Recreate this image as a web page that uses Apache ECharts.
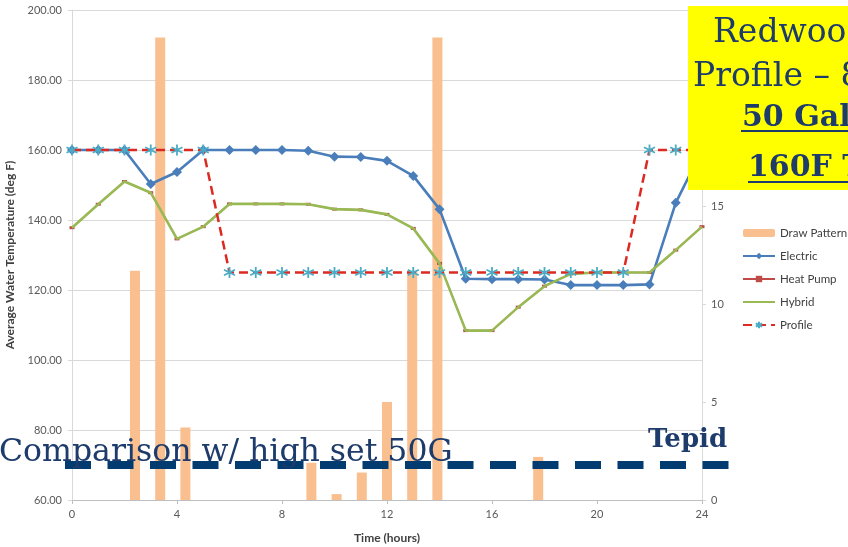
<!DOCTYPE html>
<html>
<head>
<meta charset="utf-8">
<script src="https://cdn.jsdelivr.net/npm/echarts@6/dist/echarts.min.js"></script>
<style>
  html, body { margin: 0; padding: 0; background: #ffffff; }
  #chart { width: 848px; height: 547px; }
</style>
</head>
<body>
<div id="chart"></div>
<script>
// Hour of day, 0..24
const hours = [0,1,2,3,4,5,6,7,8,9,10,11,12,13,14,15,16,17,18,19,20,21,22,23,24];

// Hourly draw volume (secondary axis)
const drawPattern = [0,0,11.7,23.6,3.7,0,0,0,0,1.9,0.3,1.4,5.0,11.7,23.6,0,0,0,2.2,0,0,0,0,0,0];

// Average water temperature, deg F
const electric = [160,160,160,150.3,153.7,160,160,160,160,159.8,158.1,158.0,156.9,152.6,143.1,123.2,123.1,123.1,123.0,121.4,121.4,121.4,121.6,144.9,160];
const heatPump = [137.8,144.5,151.0,147.8,134.6,138.1,144.6,144.6,144.6,144.5,143.1,142.9,141.6,137.6,127.6,108.4,108.4,115.1,121.1,124.6,125.0,125.0,125.0,131.4,138.1];
const hybrid   = [137.8,144.5,151.0,147.8,134.6,138.1,144.6,144.6,144.6,144.5,143.1,142.9,141.6,137.6,127.6,108.4,108.4,115.1,121.1,124.6,125.0,125.0,125.0,131.4,138.1];
const profile  = [160,160,160,160,160,160,125,125,125,125,125,125,125,125,125,125,125,125,125,125,125,125,160,160,160];

// Axis ticks
const tempTicks = { min: 60, max: 200, step: 20 };
const drawTicks = { min: 0, max: 25, step: 5 };
const hourTicks = { min: 0, max: 24, step: 4 };

const labelFont = 'Lato, "Open Sans", sans-serif';
const navy = '#1d3b6b';
const serif = '"DejaVu Serif", "Liberation Serif", serif';

const pairs = arr => hours.map((h, i) => [h, arr[i]]);
const asterisk = 'path://M5,0L5,10M0.7,2.5L9.3,7.5M9.3,2.5L0.7,7.5';

const chart = echarts.init(document.getElementById('chart'), null, { renderer: 'canvas' });

chart.setOption({
  animation: false,
  backgroundColor: '#ffffff',
  grid: { left: 72, right: 146, top: 10, bottom: 47, containLabel: false, outerBoundsMode: 'none' },
  legend: {
    orient: 'vertical',
    left: 742,
    top: 226,
    padding: 0,
    itemWidth: 32,
    itemHeight: 8,
    itemGap: 9,
    textStyle: { fontFamily: labelFont, fontSize: 11.5, color: '#404040', lineHeight: 14 },
    data: [
      'Draw Pattern',
      'Electric',
      'Heat Pump',
      { name: 'Hybrid', itemStyle: { opacity: 0 } },
      'Profile'
    ]
  },
  xAxis: [
    {
      type: 'value',
      min: hourTicks.min, max: hourTicks.max, interval: hourTicks.step,
      name: 'Time (hours)',
      nameLocation: 'middle',
      nameGap: 32,
      nameTextStyle: { fontFamily: labelFont, fontSize: 12, fontWeight: 'bold', color: '#404040' },
      axisLine: { show: true, lineStyle: { color: '#bfbfbf', width: 1 } },
      axisTick: { show: true, length: 4, lineStyle: { color: '#bfbfbf' } },
      axisLabel: { fontFamily: labelFont, fontSize: 11, color: '#595959', margin: 9 },
      splitLine: { show: false }
    },
    {
      type: 'category',
      data: hours.map(String),
      boundaryGap: true,
      show: false
    }
  ],
  yAxis: [
    {
      type: 'value',
      min: tempTicks.min, max: tempTicks.max, interval: tempTicks.step,
      name: 'Average Water Temperature (deg F)',
      nameLocation: 'middle',
      nameGap: 52,
      nameTextStyle: { fontFamily: labelFont, fontSize: 12, fontWeight: 'bold', color: '#404040' },
      axisLine: { show: true, lineStyle: { color: '#d9d9d9' } },
      axisTick: { show: true, length: 4, lineStyle: { color: '#d9d9d9' } },
      axisLabel: { fontFamily: labelFont, fontSize: 11, color: '#595959', margin: 10, formatter: v => v.toFixed(2) },
      splitLine: { show: true, lineStyle: { color: '#d9d9d9', width: 1 } }
    },
    {
      type: 'value',
      position: 'right',
      min: drawTicks.min, max: drawTicks.max, interval: drawTicks.step,
      axisLine: { show: true, lineStyle: { color: '#d9d9d9' } },
      axisTick: { show: true, length: 4, lineStyle: { color: '#d9d9d9' } },
      axisLabel: { fontFamily: labelFont, fontSize: 11, color: '#595959', margin: 9 },
      splitLine: { show: false }
    }
  ],
  series: [
    {
      name: 'Draw Pattern',
      type: 'bar',
      xAxisIndex: 1,
      yAxisIndex: 1,
      data: drawPattern,
      barWidth: 10,
      itemStyle: { color: '#f9bf8f' },
      z: 1
    },
    {
      name: 'Electric',
      type: 'line',
      data: pairs(electric),
      symbol: 'diamond',
      symbolSize: 10,
      showAllSymbol: true,
      lineStyle: { color: '#4a7ebb', width: 2.6 },
      itemStyle: { color: '#4a7ebb' },
      z: 3
    },
    {
      name: 'Heat Pump',
      type: 'line',
      data: pairs(heatPump),
      symbol: 'rect',
      symbolSize: [5, 3],
      lineStyle: { color: '#be4b48', width: 1.5 },
      itemStyle: { color: '#be4b48' },
      z: 4
    },
    {
      name: 'Hybrid',
      type: 'line',
      data: pairs(hybrid),
      symbol: 'none',
      lineStyle: { color: '#98b954', width: 2.6 },
      itemStyle: { color: '#98b954' },
      z: 5
    },
    {
      name: 'Profile',
      type: 'line',
      data: pairs(profile),
      symbol: asterisk,
      symbolSize: 11,
      showAllSymbol: true,
      lineStyle: { color: '#dc2a22', width: 2.5, type: [9, 5] },
      itemStyle: { color: 'rgba(0,0,0,0)', borderColor: '#4bacc6', borderWidth: 1.8 },
      z: 6
    }
  ],
  graphic: [
    {
      type: 'rect', z: 100,
      shape: { x: 688, y: 6, width: 220, height: 184 },
      style: { fill: '#ffff00' }
    },
    {
      type: 'text', z: 101,
      style: { x: 713, y: 33, text: 'Redwood City', font: '33px ' + serif, fill: navy, verticalAlign: 'middle' }
    },
    {
      type: 'text', z: 101,
      style: { x: 693, y: 77, text: 'Profile \u2013 8 Hours', font: '33px ' + serif, fill: navy, verticalAlign: 'middle' }
    },
    {
      type: 'text', z: 101,
      style: { x: 742, y: 118, text: '50 Gallon', font: 'bold 30px ' + serif, fill: navy, verticalAlign: 'middle' }
    },
    {
      type: 'text', z: 101,
      style: { x: 748, y: 168, text: '160F Tank', font: 'bold 30px ' + serif, fill: navy, verticalAlign: 'middle' }
    },
    {
      type: 'line', z: 101,
      shape: { x1: 741, y1: 131, x2: 860, y2: 131 },
      style: { stroke: navy, lineWidth: 2 }
    },
    {
      type: 'line', z: 101,
      shape: { x1: 748, y1: 182, x2: 860, y2: 182 },
      style: { stroke: navy, lineWidth: 2 }
    },
    {
      type: 'line', z: 102,
      shape: { x1: 65, y1: 465, x2: 729, y2: 465 },
      style: { stroke: '#023b70', lineWidth: 8, lineDash: [26, 16.5] }
    },
    {
      type: 'text', z: 103,
      style: { x: -1, y: 453, text: 'Comparison w/ high set 50G', font: '31.5px ' + serif, fill: navy, verticalAlign: 'middle' }
    },
    {
      type: 'text', z: 103,
      style: { x: 648, y: 440, text: 'Tepid', font: 'bold 26px ' + serif, fill: navy, verticalAlign: 'middle' }
    }
  ]
});
</script>
</body>
</html>
